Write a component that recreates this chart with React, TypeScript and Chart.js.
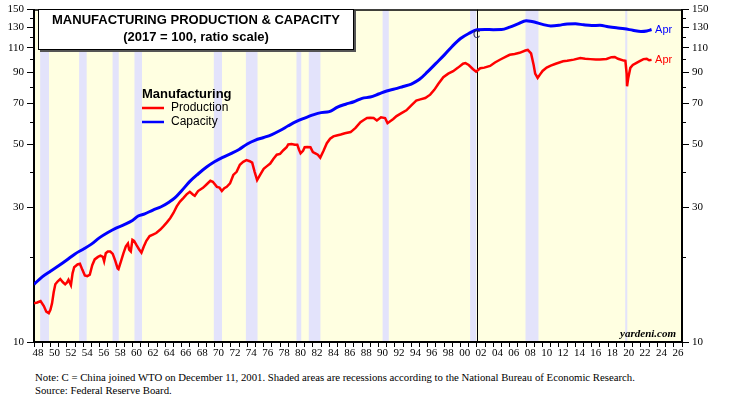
import React, { useEffect, useRef } from 'react';
import { Chart, registerables } from 'chart.js';

Chart.register(...registerables);

// ---------- data ----------
const prodDates = [
  1948.0, 1948.4, 1948.8, 1949.2, 1949.5, 1949.8, 1950.0, 1950.2, 1950.4, 1950.6, 1950.9,
  1951.2, 1951.5, 1951.8, 1952.0, 1952.2, 1952.5, 1952.7, 1952.9, 1953.3, 1953.6, 1953.9,
  1954.2, 1954.5, 1954.8, 1955.1, 1955.4, 1955.8, 1956.1, 1956.4, 1956.55, 1956.75, 1957.0,
  1957.3, 1957.6, 1957.9, 1958.2, 1958.3, 1958.6, 1958.9, 1959.2, 1959.45, 1959.6, 1959.8,
  1960.0, 1960.2, 1960.5, 1960.8, 1961.1, 1961.4, 1961.7, 1962.1, 1962.5, 1962.9, 1963.4,
  1963.8, 1964.2, 1964.6, 1965.0, 1965.4, 1965.8, 1966.2, 1966.6, 1967.0, 1967.4, 1967.6,
  1968.0, 1968.6, 1969.0, 1969.5, 1969.8, 1970.3, 1970.6, 1970.9, 1971.2, 1971.5, 1971.9,
  1972.3, 1972.7, 1973.1, 1973.5, 1973.9, 1974.3, 1974.6, 1974.9, 1975.2, 1975.6, 1976.0,
  1976.4, 1976.8, 1977.2, 1977.6, 1978.0, 1978.4, 1978.8, 1979.0, 1979.4, 1979.8, 1980.1,
  1980.3, 1980.5, 1980.8, 1981.0, 1981.3, 1981.7, 1982.0, 1982.3, 1982.6, 1982.9, 1983.3,
  1983.7, 1984.1, 1984.5, 1984.9, 1985.4, 1985.9, 1986.6, 1987.2, 1987.8, 1988.2, 1988.6,
  1989.0, 1989.4, 1989.8, 1990.3, 1990.8, 1991.1, 1991.3, 1991.8, 1992.2, 1992.8, 1993.4,
  1994.0, 1994.6, 1995.1, 1995.7, 1996.3, 1996.8, 1997.3, 1997.9, 1998.5, 1999.1, 1999.7,
  2000.3, 2000.6, 2001.0, 2001.5, 2001.9, 2002.4, 2002.9, 2003.6, 2004.2, 2004.8, 2005.6,
  2006.0, 2006.6, 2007.2, 2007.9, 2008.2, 2008.6, 2008.9, 2009.1, 2009.4, 2009.7, 2010.0,
  2010.5, 2011.0, 2011.6, 2012.5, 2013.0, 2013.8, 2014.6, 2015.2, 2015.8, 2016.5, 2017.0,
  2017.8, 2018.4, 2018.8, 2019.2, 2019.9, 2020.1, 2020.25, 2020.3, 2020.45, 2020.7, 2021.0,
  2021.4, 2021.9, 2022.3, 2022.7, 2023.0, 2023.29,
];
const prodValues = [
  13.7, 13.8, 13.95, 13.4, 12.8, 12.65, 13.0, 13.7, 15.0, 16.0, 16.4,
  16.7, 16.3, 16.0, 16.2, 16.6, 15.9, 17.5, 18.4, 18.8, 18.9, 18.0,
  17.2, 17.1, 17.3, 18.7, 19.6, 20.0, 20.2, 20.0, 19.3, 20.6, 20.9,
  20.9, 20.5, 19.4, 18.2, 18.1, 19.3, 20.6, 21.8, 22.3, 21.2, 20.9,
  23.0, 22.8, 22.0, 21.3, 20.7, 21.8, 22.8, 23.7, 24.0, 24.3, 25.0,
  25.7, 26.5, 27.4, 28.6, 30.2, 31.4, 32.3, 33.3, 34.0, 33.2, 32.9,
  34.2, 35.1, 36.0, 37.2, 36.9, 35.4, 35.2, 34.2, 35.0, 35.4, 36.4,
  39.0, 40.0, 42.4, 43.4, 44.0, 43.6, 43.1, 40.0, 37.4, 39.2, 41.0,
  41.9, 42.8, 44.5, 46.0, 46.3, 47.7, 48.9, 50.0, 50.2, 49.9, 49.9,
  48.0, 46.5, 47.5, 48.9, 49.0, 48.9, 47.0, 46.5, 46.0, 44.9, 47.5,
  50.5, 52.4, 53.4, 53.8, 54.2, 54.8, 55.3, 57.2, 59.9, 61.0, 62.0,
  62.1, 62.0, 60.8, 62.4, 62.0, 59.5, 60.0, 61.5, 63.0, 64.5, 66.0,
  68.8, 71.5, 72.2, 73.0, 75.0, 78.0, 82.0, 86.5, 89.0, 90.8, 93.5,
  96.5, 97.0, 95.5, 92.5, 90.5, 93.0, 93.5, 94.8, 97.5, 99.7, 102.4,
  103.8, 104.5, 105.5, 107.5, 108.0, 105.0, 96.0, 89.0, 86.0, 88.5, 91.0,
  93.5, 95.0, 96.5, 98.5, 98.8, 99.8, 101.1, 100.5, 100.2, 99.8, 99.8,
  100.3, 101.8, 102.0, 100.5, 99.0, 98.8, 89.0, 80.3, 86.0, 93.3, 95.5,
  97.0, 98.8, 100.2, 100.4, 99.3, 99.6,
];

const capDates = [
  1948.0, 1949.0, 1950.0, 1951.0, 1952.0, 1953.0, 1954.0, 1955.0, 1956.0, 1957.0, 1958.0,
  1959.0, 1960.0, 1960.7, 1961.5, 1962.5, 1963.5, 1964.5, 1965.2, 1966.0, 1967.0, 1968.0,
  1969.0, 1970.0, 1971.0, 1972.0, 1973.0, 1974.0, 1975.0, 1976.0, 1977.0, 1978.0, 1979.0,
  1980.0, 1981.0, 1982.0, 1983.0, 1984.0, 1985.0, 1986.0, 1987.0, 1988.0, 1989.0, 1990.0,
  1991.0, 1992.0, 1993.0, 1994.0, 1995.0, 1996.0, 1997.0, 1998.0, 1999.0, 2000.0, 2001.0,
  2002.0, 2003.0, 2004.0, 2005.0, 2006.0, 2007.0, 2008.0, 2008.5, 2009.0, 2010.0, 2011.0,
  2012.0, 2013.0, 2014.0, 2015.0, 2016.0, 2017.0, 2018.0, 2019.0, 2020.0, 2021.0, 2022.0,
  2022.7, 2023.29,
];
const capValues = [
  16.0, 17.0, 17.8, 18.6, 19.5, 20.5, 21.3, 22.2, 23.4, 24.4, 25.3,
  26.0, 26.9, 27.9, 28.4, 29.3, 30.1, 31.3, 32.4, 34.3, 37.0, 39.3,
  41.5, 43.4, 45.0, 46.4, 48.0, 50.2, 51.8, 52.9, 54.2, 56.0, 58.2,
  60.3, 62.0, 63.6, 64.8, 65.3, 67.8, 69.4, 70.8, 72.8, 73.6, 75.4,
  77.3, 78.6, 80.2, 81.8, 85.0, 90.5, 96.8, 103.5, 111.3, 118.5, 123.5,
  127.2, 127.6, 127.4, 127.5, 130.0, 133.5, 137.0, 136.5, 135.5, 133.0, 131.3,
  132.0, 133.5, 133.6, 132.5, 131.8, 132.0, 130.5, 129.3, 128.3, 126.8, 125.5,
  126.0, 127.5,
];

const recessionStarts = [1948.75, 1953.5, 1957.58, 1960.25, 1969.92, 1973.83, 1980.0, 1981.5, 1990.5, 2001.17, 2007.92, 2020.08];
const recessionEnds = [1949.83, 1954.42, 1958.33, 1961.17, 1970.92, 1975.25, 1980.58, 1982.92, 1991.25, 2001.92, 2009.5, 2020.33];

const yTickValues = [10, 20, 30, 40, 50, 60, 70, 80, 90, 100, 110, 120, 130, 140, 150];
const yTickLabels = [10, 30, 50, 70, 90, 110, 130, 150];
const xMin = 1948;
const xMax = 2027;
const wtoDate = 2001.95;
const lastMonth = 'Apr';

const titleLines = ['MANUFACTURING PRODUCTION & CAPACITY', '(2017 = 100, ratio scale)'];
const legendTitle = 'Manufacturing';
const seriesNames = ['Production', 'Capacity'];
const seriesColors = ['#ff0000', '#0000ff'];
const noteLines = [
  'Note: C = China joined WTO on December 11, 2001. Shaded areas are recessions according to the National Bureau of Economic Research.',
  'Source: Federal Reserve Board.',
];

const W = 733;
const H = 368;
const SANS = '"Liberation Sans", Arial, sans-serif';
const SERIF = '"Liberation Serif", "Times New Roman", serif';

const decor = {
  id: 'decor',
  beforeDraw(chart: any) {
    const { ctx, chartArea: a, scales } = chart;
    const xs = scales.x;
    ctx.save();
    ctx.fillStyle = '#ffffe1';
    ctx.fillRect(a.left, a.top, a.right - a.left, a.bottom - a.top);
    ctx.fillStyle = '#e3e3fb';
    recessionStarts.forEach((s, i) => {
      const x0 = xs.getPixelForValue(s);
      const x1 = xs.getPixelForValue(recessionEnds[i]);
      ctx.fillRect(x0, a.top, x1 - x0, a.bottom - a.top);
    });
    const cx = Math.round(xs.getPixelForValue(wtoDate)) + 0.5;
    ctx.strokeStyle = '#000';
    ctx.lineWidth = 1;
    ctx.beginPath();
    ctx.moveTo(cx, a.top);
    ctx.lineTo(cx, a.bottom);
    ctx.stroke();
    ctx.restore();
  },
  afterDraw(chart: any) {
    const { ctx, chartArea: a, scales } = chart;
    const xs = scales.x;
    const ys = scales.y;
    ctx.save();
    // top border
    ctx.strokeStyle = '#000';
    ctx.lineWidth = 1.5;
    ctx.beginPath();
    ctx.moveTo(a.left, a.top + 0.5);
    ctx.lineTo(a.right, a.top + 0.5);
    ctx.stroke();

    // short minor ticks on both value axes
    ctx.lineWidth = 1;
    yTickValues.forEach((v) => {
      if (yTickLabels.includes(v)) return;
      const py = Math.round(ys.getPixelForValue(v)) + 0.5;
      ctx.beginPath();
      ctx.moveTo(a.left - 4, py);
      ctx.lineTo(a.left, py);
      ctx.moveTo(a.right, py);
      ctx.lineTo(a.right + 4, py);
      ctx.stroke();
    });

    // C label
    ctx.fillStyle = '#1c1c50';
    ctx.font = `10px ${SANS}`;
    ctx.textAlign = 'center';
    ctx.textBaseline = 'middle';
    ctx.fillText('C', xs.getPixelForValue(wtoDate), 35);

    // title box
    const bx = 38, by = 9, bw = 316, bh = 41;
    ctx.fillStyle = '#555';
    ctx.fillRect(bx + 2, by + 2, bw, bh);
    ctx.fillStyle = '#fff';
    ctx.fillRect(bx, by, bw, bh);
    ctx.strokeStyle = '#000';
    ctx.lineWidth = 1;
    ctx.strokeRect(bx + 0.5, by + 0.5, bw - 1, bh - 1);
    ctx.fillStyle = '#000';
    ctx.font = `bold 13px ${SANS}`;
    ctx.textAlign = 'center';
    ctx.fillText(titleLines[0], bx + bw / 2, 20.5);
    ctx.fillText(titleLines[1], bx + bw / 2, 37.5);

    // legend
    ctx.textAlign = 'left';
    ctx.font = `bold 13px ${SANS}`;
    ctx.fillText(legendTitle, 142, 94);
    ctx.font = `12px ${SANS}`;
    [108, 122].forEach((ly, i) => {
      ctx.strokeStyle = seriesColors[i];
      ctx.lineWidth = 2.5;
      ctx.beginPath();
      ctx.moveTo(142, ly);
      ctx.lineTo(164, ly);
      ctx.stroke();
      ctx.fillStyle = '#000';
      ctx.fillText(seriesNames[i], 171, ly);
    });

    // end labels
    ctx.font = `11px ${SANS}`;
    const ends = [
      [prodDates[prodDates.length - 1], prodValues[prodValues.length - 1]],
      [capDates[capDates.length - 1], capValues[capValues.length - 1]],
    ];
    ends.forEach(([d, v], i) => {
      ctx.fillStyle = seriesColors[i];
      ctx.fillText(lastMonth, xs.getPixelForValue(d) + 3.5, ys.getPixelForValue(v) + 0.5);
    });

    // watermark
    ctx.fillStyle = '#000';
    ctx.font = `bold italic 11px ${SERIF}`;
    ctx.textAlign = 'right';
    ctx.fillText('yardeni.com', a.right - 6, a.bottom - 8);
    ctx.restore();
  },
};

function yAxis(position: 'left' | 'right', width: number) {
  return {
    type: 'logarithmic',
    position,
    min: 10,
    max: 150,
    afterBuildTicks: (axis: any) => {
      axis.ticks = yTickValues.map((v) => ({ value: v }));
    },
    afterFit: (axis: any) => {
      axis.width = width;
    },
    ticks: {
      autoSkip: false,
      padding: 3,
      color: '#000',
      font: { family: SERIF, size: 11 },
      callback: (v: any) => (yTickLabels.includes(Number(v)) ? String(v) : ''),
    },
    grid: {
      drawOnChartArea: false,
      drawTicks: true,
      tickLength: 7,
      tickColor: (c: any) =>
        c.tick && yTickLabels.includes(Number(c.tick.value)) ? '#000' : 'rgba(0,0,0,0)',
      tickWidth: 1,
    },
    border: { display: true, color: '#000', width: 2 },
  };
}

export default function App() {
  const ref = useRef<HTMLCanvasElement>(null);
  useEffect(() => {
    if (!ref.current) return;
    const chart = new Chart(ref.current, {
      type: 'line',
      data: {
        datasets: [
          {
            label: seriesNames[0],
            data: prodDates.map((d, i) => ({ x: d, y: prodValues[i] })),
            borderColor: seriesColors[0],
            borderWidth: 2.5,
            pointRadius: 0,
            tension: 0,
            order: 2,
          },
          {
            label: seriesNames[1],
            data: capDates.map((d, i) => ({ x: d, y: capValues[i] })),
            borderColor: seriesColors[1],
            borderWidth: 3,
            pointRadius: 0,
            cubicInterpolationMode: 'monotone',
            order: 1,
          },
        ],
      },
      options: {
        animation: false,
        responsive: false,
        devicePixelRatio: 1,
        layout: { padding: { top: 6, left: 0, right: 0, bottom: 0 } },
        plugins: { legend: { display: false }, tooltip: { enabled: false } },
        scales: {
          x: {
            type: 'linear',
            position: 'bottom',
            min: xMin,
            max: xMax,
            afterBuildTicks: (axis: any) => {
              const t = [];
              for (let v = xMin; v <= xMax + 0.001; v += 0.5) t.push({ value: v });
              axis.ticks = t;
            },
            afterFit: (axis: any) => {
              axis.height = H - 342;
            },
            ticks: {
              autoSkip: false,
              maxRotation: 0,
              minRotation: 0,
              padding: 0,
              color: '#000',
              font: { family: SERIF, size: 11 },
              callback: (v: any) => {
                const n = Number(v);
                if (Math.abs(n % 1 - 0.5) > 0.01) return '';
                const yr = Math.floor(n);
                if (yr % 2 !== 0) return '';
                return String(yr % 100).padStart(2, '0');
              },
            },
            grid: {
              drawOnChartArea: false,
              drawTicks: true,
              tickLength: 5,
              tickWidth: 1,
              tickColor: (c: any) =>
                c.tick && Math.abs(c.tick.value % 1) < 0.01 ? '#000' : 'rgba(0,0,0,0)',
            },
            border: { display: true, color: '#000', width: 2 },
          },
          y: yAxis('left', 34),
          y2: yAxis('right', W - 682),
        },
      },
      plugins: [decor],
    } as any);
    return () => chart.destroy();
  }, []);

  return (
    <div style={{ position: 'absolute', left: 0, top: 0, width: W, height: 399, background: '#fff' }}>
      <canvas ref={ref} width={W} height={H} style={{ display: 'block' }} />
      {noteLines.map((t, i) => (
        <div
          key={i}
          style={{
            position: 'absolute',
            left: 35,
            top: 371 + i * 13,
            fontFamily: SERIF,
            fontSize: 10.75,
            lineHeight: '13px',
            color: '#000',
            whiteSpace: 'nowrap',
          }}
        >
          {t}
        </div>
      ))}
    </div>
  );
}
